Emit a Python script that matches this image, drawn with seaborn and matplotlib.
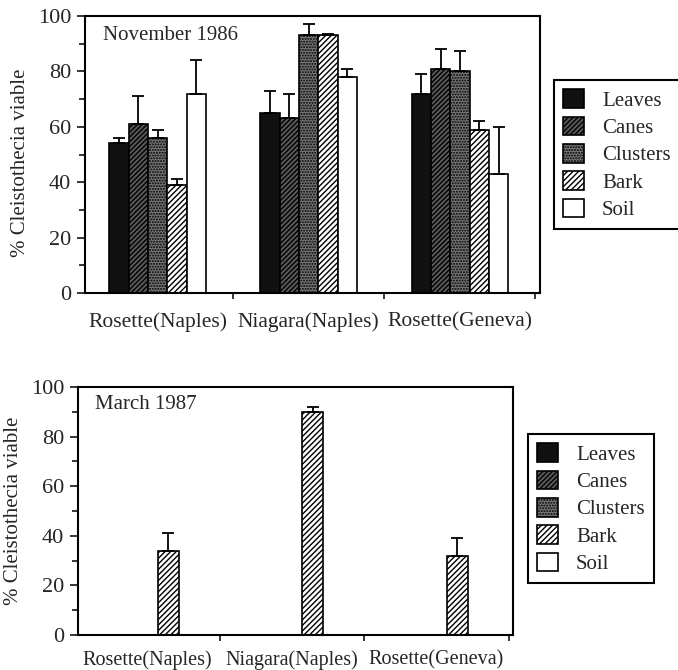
import numpy as np
import pandas as pd
import matplotlib
matplotlib.use("Agg")
import matplotlib.pyplot as plt
from matplotlib.patches import Patch
from matplotlib.ticker import MultipleLocator, FixedLocator
import seaborn as sns

# ---- data -------------------------------------------------------------
sites = ["Rosette(Naples)", "Niagara(Naples)", "Rosette(Geneva)"]
parts = ["Leaves", "Canes", "Clusters", "Bark", "Soil"]

# November 1986: mean % viable and standard error (per part, per site)
nov_leaves = [54, 65, 72]
nov_canes = [61, 63, 81]
nov_clusters = [56, 93, 80]
nov_bark = [39, 93, 59]
nov_soil = [72, 78, 43]

nov_leaves_se = [2, 8, 7]
nov_canes_se = [10, 9, 7]
nov_clusters_se = [3, 4, 7.5]
nov_bark_se = [2, 0.5, 3]
nov_soil_se = [12, 3, 17]

# March 1987: only bark was sampled
mar_bark = [34, 90, 32]
mar_bark_se = [7, 2, 7]

# ---- styling of the five sample types ------------------------------------
styles = {
    "Leaves":   dict(facecolor="#111111", hatch=None),
    "Canes":    dict(facecolor="#5a5a5a", hatch="///////"),
    "Clusters": dict(facecolor="#777777", hatch="......"),
    "Bark":     dict(facecolor="white", hatch="//////"),
    "Soil":     dict(facecolor="white", hatch=None),
}

sns.set_theme(style="ticks")
plt.rcParams["font.family"] = ["Liberation Serif", "DejaVu Serif"]
plt.rcParams["hatch.linewidth"] = 1.0
plt.rcParams["hatch.color"] = "black"

FS = 15


def frame(values, errors):
    rows = []
    for part, vals in values.items():
        for site, v, e in zip(sites, vals, errors[part]):
            rows.append(dict(site=site, part=part, value=v, se=e))
    return pd.DataFrame(rows)


def draw_panel(ax, df, width, title, xfs, xpad):
    sns.barplot(data=df, x="site", y="value", hue="part", order=sites,
                hue_order=parts, width=width, gap=0, dodge=True,
                errorbar=None, legend=False, ax=ax, linewidth=1.2,
                edgecolor="black", saturation=1)
    lookup = df.set_index(["site", "part"])["se"]
    bw = width / len(parts)
    xs, ys, es = [], [], []
    for rect in list(ax.patches):
        cx = rect.get_x() + rect.get_width() / 2
        gi = int(round(cx))
        hi = int(round((cx - gi) / bw + (len(parts) - 1) / 2))
        site, part = sites[gi], parts[hi]
        st = styles[part]
        rect.set_facecolor(st["facecolor"])
        rect.set_hatch(st["hatch"])
        rect.set_edgecolor("black")
        xs.append(cx)
        ys.append(rect.get_height())
        es.append(lookup.loc[(site, part)])
    ax.errorbar(xs, ys, yerr=[np.zeros(len(es)), es], fmt="none",
                ecolor="black", elinewidth=1.3, capsize=4,
                capthick=1.3, zorder=5)

    ax.set_xlim(-0.48, 2.53)
    ax.set_ylim(0, 100)
    ax.yaxis.set_major_locator(MultipleLocator(20))
    ax.yaxis.set_minor_locator(MultipleLocator(10))
    ax.xaxis.set_minor_locator(FixedLocator([0.5, 1.5, 2.5]))
    ax.tick_params(axis="y", which="major", direction="out", length=6,
                   width=1.3, labelsize=FS + 1, pad=4)
    ax.tick_params(axis="y", which="minor", direction="out", length=4,
                   width=1.3)
    ax.tick_params(axis="x", which="major", length=0, labelsize=xfs,
                   pad=xpad)
    ax.tick_params(axis="x", which="minor", direction="out", length=4,
                   width=1.3)
    ax.set_xlabel("")
    ax.set_ylabel("% Cleistothecia viable", fontsize=FS)
    for s in ax.spines.values():
        s.set_visible(True)
        s.set_linewidth(1.5)
        s.set_color("black")
    ax.text(0.04, 0.93, title, transform=ax.transAxes, fontsize=FS,
            ha="left", va="center")


def add_legend(fig, x, y):
    handles = [Patch(facecolor=styles[p]["facecolor"], hatch=styles[p]["hatch"],
                     edgecolor="black", linewidth=1.2, label=p) for p in parts]
    leg = fig.legend(handles=handles, loc="upper left", bbox_to_anchor=(x, y),
                     bbox_transform=fig.transFigure, fontsize=FS,
                     frameon=True, fancybox=False, shadow=False,
                     handlelength=1.0, handleheight=1.0, handletextpad=0.85,
                     labelspacing=0.28, borderpad=0.45, borderaxespad=0)
    leg.get_frame().set_edgecolor("black")
    leg.get_frame().set_linewidth(1.5)
    leg.get_frame().set_alpha(1)


fig = plt.figure(figsize=(6.78, 6.70), dpi=100)
W, H = 678, 670

ax1 = fig.add_axes([85 / W, 1 - 293 / H, 455 / W, 277 / H])
nov = frame(
    {"Leaves": nov_leaves, "Canes": nov_canes, "Clusters": nov_clusters,
     "Bark": nov_bark, "Soil": nov_soil},
    {"Leaves": nov_leaves_se, "Canes": nov_canes_se,
     "Clusters": nov_clusters_se, "Bark": nov_bark_se, "Soil": nov_soil_se},
)
draw_panel(ax1, nov, 0.64, "November 1986", 15.5, 14)
ax1.yaxis.set_label_coords(-0.121, 0.47)

ax2 = fig.add_axes([78 / W, 1 - 635 / H, 435 / W, 248 / H])
mar = frame({"Bark": mar_bark}, {"Bark": mar_bark_se})
draw_panel(ax2, mar, 0.72, "March 1987", 14.5, 11)
ax2.yaxis.set_label_coords(-0.126, 0.5)

add_legend(fig, 554 / W, 1 - 80 / H)
add_legend(fig, 528 / W, 1 - 434 / H)

fig.savefig("out.png", dpi=100)
